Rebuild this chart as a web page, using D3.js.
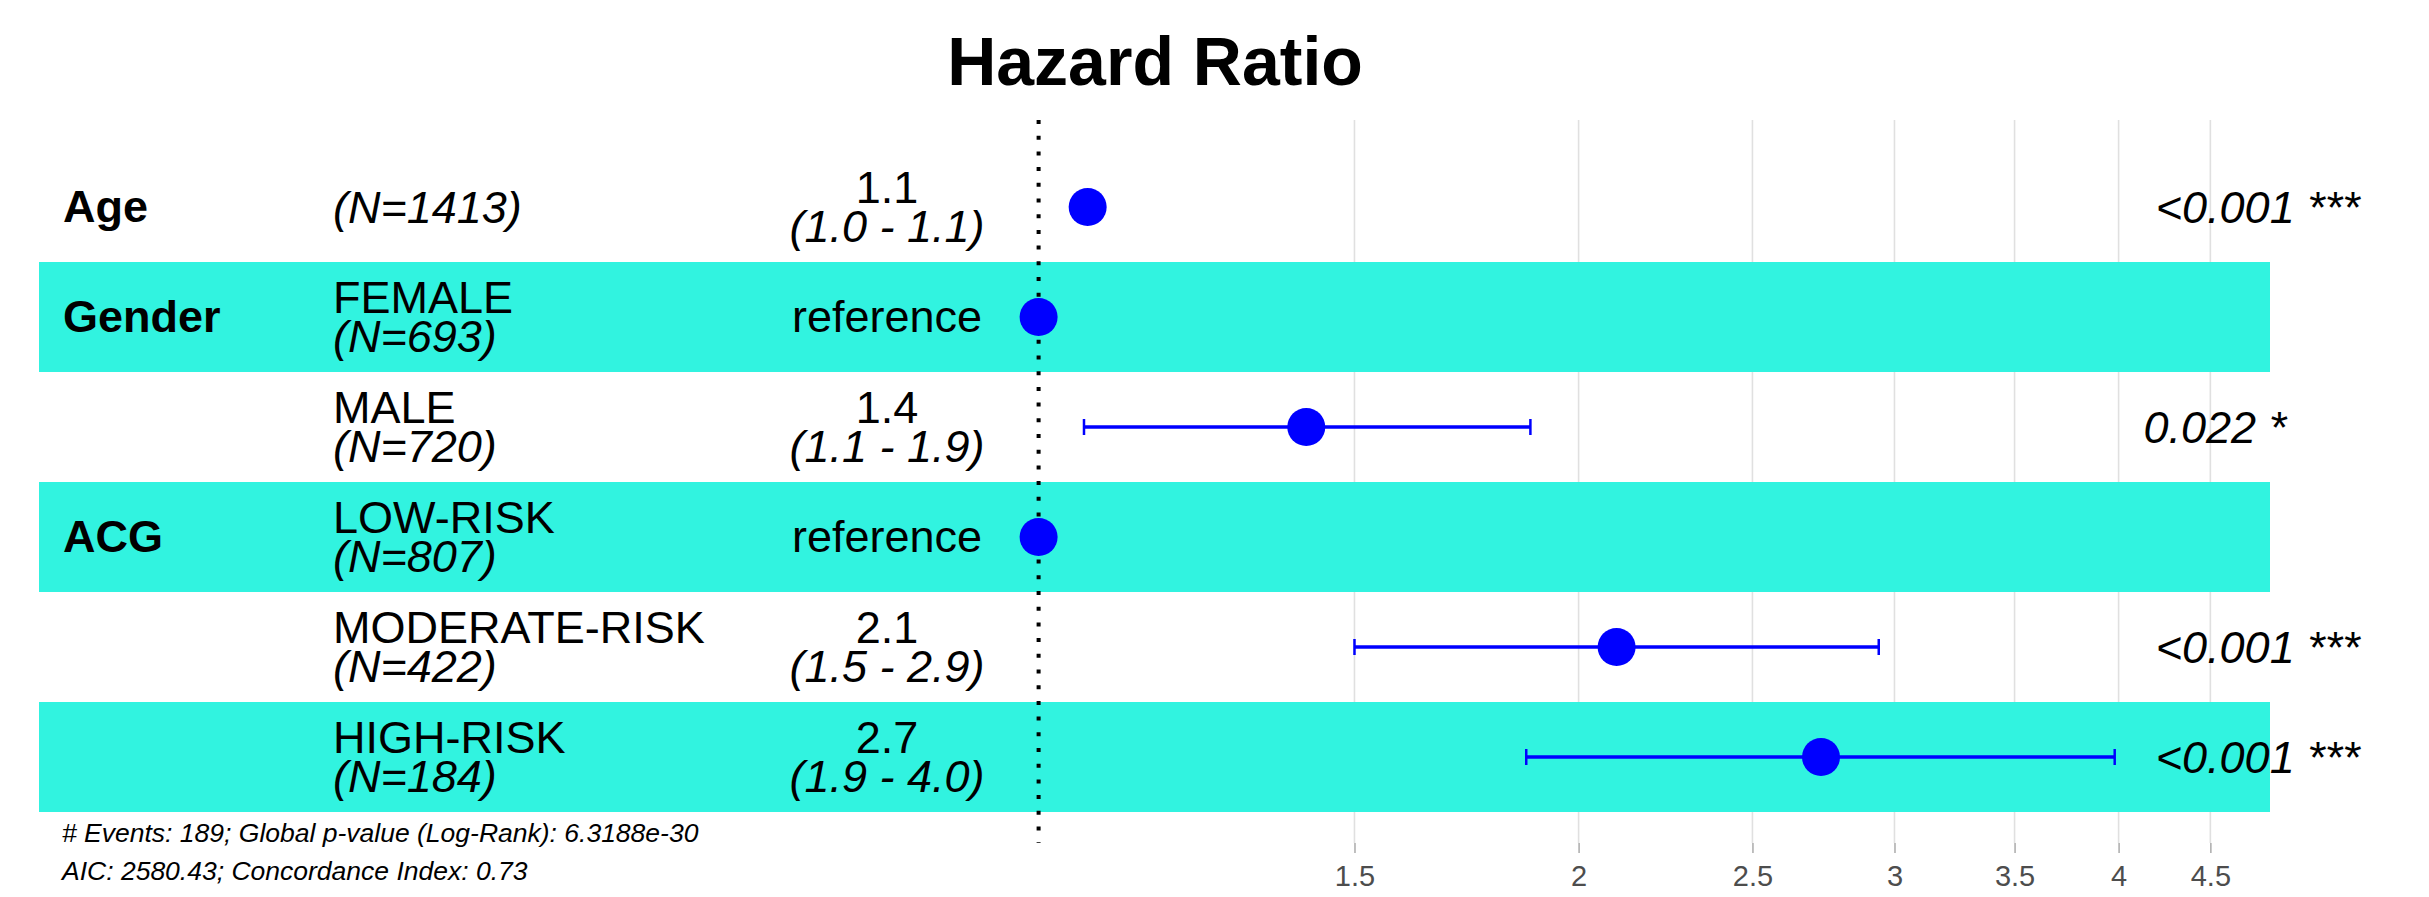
<!DOCTYPE html>
<html>
<head>
<meta charset="utf-8">
<script src="https://cdn.jsdelivr.net/npm/d3@7"></script>
<style>
  body { margin: 0; background: #fff; }
  text { font-family: "Liberation Sans", Arial, Helvetica, sans-serif; }
</style>
</head>
<body>
<div id="chart"></div>
<script>
const WIDTH = 2429
const HEIGHT = 897

// forest plot rows
const variables = ["Age", "Gender", "", "ACG", "", ""]
const levels = ["", "FEMALE", "MALE", "LOW-RISK", "MODERATE-RISK", "HIGH-RISK"]
const nCounts = [1413, 693, 720, 807, 422, 184]
const hr = [1.065, 1, 1.41, 1, 2.10, 2.73]
const ciLow = [1.049, null, 1.06, null, 1.50, 1.87]
const ciHigh = [1.08, null, 1.88, null, 2.94, 3.98]
const pValues = ["<0.001 ***", null, "0.022 *", null, "<0.001 ***", "<0.001 ***"]
const xTicks = [1.5, 2, 2.5, 3, 3.5, 4, 4.5]
const footnotes = [
  "# Events: 189; Global p-value (Log-Rank): 6.3188e-30",
  "AIC: 2580.43; Concordance Index: 0.73"
]

const fmt = d3.format(".1f")
const rows = hr.map((d, i) => ({
  i, hr: d, lo: ciLow[i], hi: ciHigh[i], variable: variables[i],
  level: levels[i], n: nCounts[i], p: pValues[i], ref: ciLow[i] === null
}))

const svg = d3.select("#chart").append("svg")
  .attr("width", WIDTH)
  .attr("height", HEIGHT)

const x = d3.scaleLog().domain([1, 4]).range([1038.6, 2118.6])
const y = d3.scaleLinear().domain([0, 5]).range([207, 757])
const ROW_H = 110
const PANEL_TOP = 120, PANEL_BOTTOM = 843

// title
svg.append("text")
  .attr("x", 1155).attr("y", 85)
  .attr("text-anchor", "middle")
  .attr("font-size", 68).attr("font-weight", "bold")
  .text("Hazard Ratio")

// grid
svg.append("g").selectAll("line")
  .data(xTicks).join("line")
  .attr("x1", d => x(d)).attr("x2", d => x(d))
  .attr("y1", PANEL_TOP).attr("y2", PANEL_BOTTOM)
  .attr("stroke", "#e0e0e0").attr("stroke-width", 1.6)

// axis
const xAxis = svg.append("g")
  .attr("transform", `translate(0, ${PANEL_BOTTOM})`)
  .call(d3.axisBottom(x).tickValues(xTicks).tickSize(10).tickPadding(12).tickFormat(d => String(d)))
xAxis.select(".domain").remove()
xAxis.selectAll(".tick line").attr("stroke", "#b0b0b0").attr("stroke-width", 1.6)
xAxis.selectAll(".tick text")
  .attr("font-size", 29).attr("fill", "#4d4d4d")
  .style("font-family", "\"Liberation Sans\", Arial, sans-serif")

// shaded bands
svg.append("g").selectAll("rect")
  .data(rows.filter(d => d.i % 2 === 1)).join("rect")
  .attr("x", 39).attr("width", 2270 - 39)
  .attr("y", d => y(d.i) - ROW_H / 2).attr("height", ROW_H)
  .attr("fill", "#31f3e0")

// reference line at HR = 1
svg.append("line")
  .attr("x1", x(1)).attr("x2", x(1))
  .attr("y1", PANEL_TOP).attr("y2", PANEL_BOTTOM)
  .attr("stroke", "#000").attr("stroke-width", 4)
  .attr("stroke-dasharray", "4 11.7")

// confidence intervals
const ci = svg.append("g").selectAll("g")
  .data(rows.filter(d => !d.ref)).join("g")
ci.append("line")
  .attr("x1", d => x(d.lo)).attr("x2", d => x(d.hi))
  .attr("y1", d => y(d.i)).attr("y2", d => y(d.i))
  .attr("stroke", "#0000ff").attr("stroke-width", 3.5)
ci.selectAll(".cap")
  .data(d => [d.lo, d.hi].map(v => ({ v, i: d.i }))).join("line")
  .attr("class", "cap")
  .attr("x1", d => x(d.v)).attr("x2", d => x(d.v))
  .attr("y1", d => y(d.i) - 8).attr("y2", d => y(d.i) + 8)
  .attr("stroke", "#0000ff").attr("stroke-width", 2.5)

// points
svg.append("g").selectAll("circle")
  .data(rows).join("circle")
  .attr("cx", d => x(d.hr)).attr("cy", d => y(d.i))
  .attr("r", 19).attr("fill", "#0000ff")

// left columns
const FS = 45
const labels = svg.append("g")

labels.selectAll(".var")
  .data(rows.filter(d => d.variable)).join("text")
  .attr("class", "var")
  .attr("x", 63).attr("y", d => y(d.i) + 15)
  .attr("font-size", FS).attr("font-weight", "bold")
  .text(d => d.variable)

rows.forEach(d => {
  const cy = y(d.i)
  if (d.level) {
    labels.append("text").attr("x", 333).attr("y", cy - 4)
      .attr("font-size", FS).text(d.level)
    labels.append("text").attr("x", 333).attr("y", cy + 35)
      .attr("font-size", FS).attr("font-style", "italic").text(`(N=${d.n})`)
  } else {
    labels.append("text").attr("x", 333).attr("y", cy + 16)
      .attr("font-size", FS).attr("font-style", "italic").text(`(N=${d.n})`)
  }

  if (d.ref) {
    labels.append("text").attr("x", 887).attr("y", cy + 15)
      .attr("text-anchor", "middle").attr("font-size", FS).text("reference")
  } else {
    labels.append("text").attr("x", 887).attr("y", cy - 4)
      .attr("text-anchor", "middle").attr("font-size", FS).text(fmt(d.hr))
    labels.append("text").attr("x", 887).attr("y", cy + 35)
      .attr("text-anchor", "middle").attr("font-size", FS).attr("font-style", "italic")
      .text(`(${fmt(d.lo)} - ${fmt(d.hi)})`)
  }

  if (d.p) {
    // hjust = -0.2 like ggplot annotate
    const t = labels.append("text").attr("y", cy + 16)
      .attr("font-size", FS).attr("font-style", "italic").text(d.p)
    const w = t.node().getComputedTextLength()
    t.attr("x", 2115 + 0.2 * w)
  }
})

// footnote
svg.append("g").selectAll("text")
  .data(footnotes).join("text")
  .attr("x", 62).attr("y", (d, i) => 842 + i * 38)
  .attr("font-size", 26.5).attr("font-style", "italic")
  .text(d => d)
</script>
</body>
</html>
